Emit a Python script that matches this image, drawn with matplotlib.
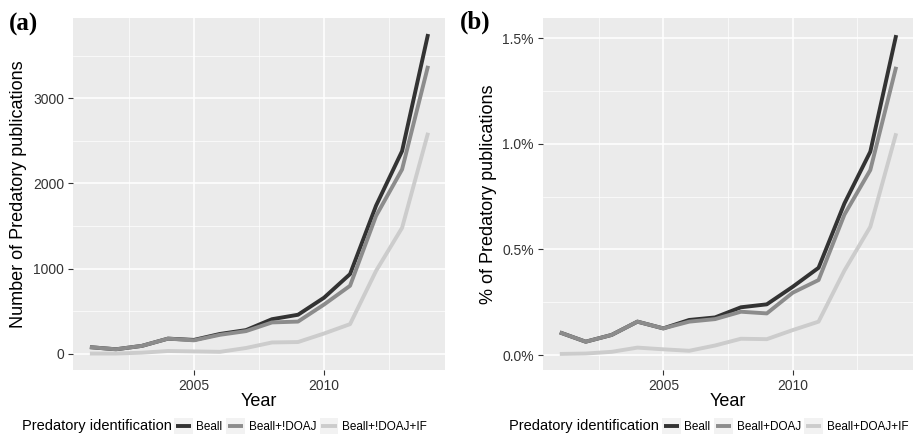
import matplotlib
matplotlib.use('Agg')
import matplotlib.pyplot as plt
from matplotlib.lines import Line2D
from matplotlib.patches import Rectangle
from matplotlib.ticker import FuncFormatter, MultipleLocator

plt.rcParams['font.family'] = ['Liberation Sans', 'DejaVu Sans']

# years covered by both panels
years = list(range(2001, 2015))

# (a) number of predatory publications
count_beall = [80, 55, 95, 180, 165, 235, 280, 408, 460, 660, 937, 1740, 2380, 3753]
count_beall_doaj = [80, 55, 95, 180, 160, 225, 268, 370, 380, 580, 800, 1620, 2165, 3380]
count_beall_doaj_if = [5, 5, 15, 35, 30, 25, 70, 135, 140, 240, 350, 975, 1480, 2595]

# (b) share of predatory publications, in percent
pct_beall = [0.107, 0.063, 0.095, 0.158, 0.126, 0.166, 0.178, 0.226, 0.240, 0.323, 0.413, 0.718, 0.963, 1.515]
pct_beall_doaj = [0.107, 0.063, 0.095, 0.158, 0.126, 0.158, 0.170, 0.205, 0.197, 0.295, 0.355, 0.665, 0.876, 1.365]
pct_beall_doaj_if = [0.005, 0.007, 0.015, 0.035, 0.027, 0.020, 0.045, 0.077, 0.075, 0.118, 0.158, 0.400, 0.607, 1.050]

colors = ['#333333', '#8c8c8c', '#cccccc']
labels_a = ['Beall', 'Beall+!DOAJ', 'Beall+!DOAJ+IF']
labels_b = ['Beall', 'Beall+DOAJ', 'Beall+DOAJ+IF']

W, H = 918, 436
fig = plt.figure(figsize=(W / 100, H / 100), dpi=100)


class KeyHandler:
    # grey key square with a short line on top, like ggplot legends
    def legend_artist(self, legend, orig_handle, fontsize, handlebox):
        x0, y0 = -handlebox.xdescent, -handlebox.ydescent
        w, h = handlebox.width, handlebox.height
        tr = handlebox.get_transform()
        rect = Rectangle((x0, y0), w, h, facecolor='#f2f2f2', edgecolor='none', transform=tr)
        line = Line2D([x0 + 0.1 * w, x0 + 0.9 * w], [y0 + h / 2] * 2,
                      color=orig_handle.get_color(), linewidth=2.8,
                      solid_capstyle='butt', transform=tr)
        handlebox.add_artist(rect)
        handlebox.add_artist(line)
        return line


def px_axes(x0, x1, y0, y1):
    return fig.add_axes([x0 / W, 1 - y1 / H, (x1 - x0) / W, (y1 - y0) / H])


def style(ax):
    ax.set_facecolor('#ebebeb')
    for s in ax.spines.values():
        s.set_visible(False)
    ax.grid(which='major', color='white', linewidth=1.1)
    ax.grid(which='minor', color='white', linewidth=0.5)
    ax.set_axisbelow(True)
    ax.tick_params(which='major', length=3.5, width=0.8, color='#333333',
                   labelsize=10, labelcolor='#333333', pad=3)
    ax.tick_params(which='minor', length=0)
    ax.xaxis.set_major_locator(MultipleLocator(5))
    ax.xaxis.set_minor_locator(MultipleLocator(2.5))
    ax.set_xlim(2000.35, 2014.65)
    ax.set_xlabel('Year', fontsize=13, labelpad=0)


def draw_legend(labels, title_x, keys_x):
    fig.text(title_x / W, 1 - 426 / H, 'Predatory identification', fontsize=10.5,
             ha='left', va='center', color='black')
    handles = [Line2D([], [], color=c) for c in colors]
    fig.legend(handles, labels, loc='center left', ncol=3, frameon=False,
               bbox_to_anchor=(keys_x / W, 1 - 426 / H),
               handler_map={Line2D: KeyHandler()},
               handlelength=1.6, handleheight=1.6, handletextpad=0.3,
               columnspacing=0.3, borderpad=0, borderaxespad=0, fontsize=8.5)


# panel (a): counts
ax1 = px_axes(73, 445, 18, 370)
style(ax1)
for vals, c in zip([count_beall, count_beall_doaj, count_beall_doaj_if], colors):
    ax1.plot(years, vals, color=c, linewidth=2.8, solid_capstyle='butt')
ax1.yaxis.set_major_locator(MultipleLocator(1000))
ax1.yaxis.set_minor_locator(MultipleLocator(500))
ax1.set_ylim(-188, 3941)
ax1.set_ylabel('Number of Predatory publications', fontsize=13, labelpad=4)
fig.text(9 / W, 1 - 24 / H, '(a)', fontsize=18, fontweight='bold',
         family='Liberation Serif', ha='left', va='center')
draw_legend(labels_a, 22, 174)

# panel (b): percentages
ax2 = px_axes(543, 913, 18, 370)
style(ax2)
for vals, c in zip([pct_beall, pct_beall_doaj, pct_beall_doaj_if], colors):
    ax2.plot(years, vals, color=c, linewidth=2.8, solid_capstyle='butt')
ax2.yaxis.set_major_locator(MultipleLocator(0.5))
ax2.yaxis.set_minor_locator(MultipleLocator(0.25))
ax2.yaxis.set_major_formatter(FuncFormatter(lambda v, p: '{:.1f}%'.format(v)))
ax2.set_ylim(-0.071, 1.596)
ax2.set_ylabel('% of Predatory publications', fontsize=13, labelpad=4)
fig.text(460 / W, 1 - 22 / H, '(b)', fontsize=18, fontweight='bold',
         family='Liberation Serif', ha='left', va='center')
draw_legend(labels_b, 509, 662)

fig.savefig('out.png', dpi=100)
